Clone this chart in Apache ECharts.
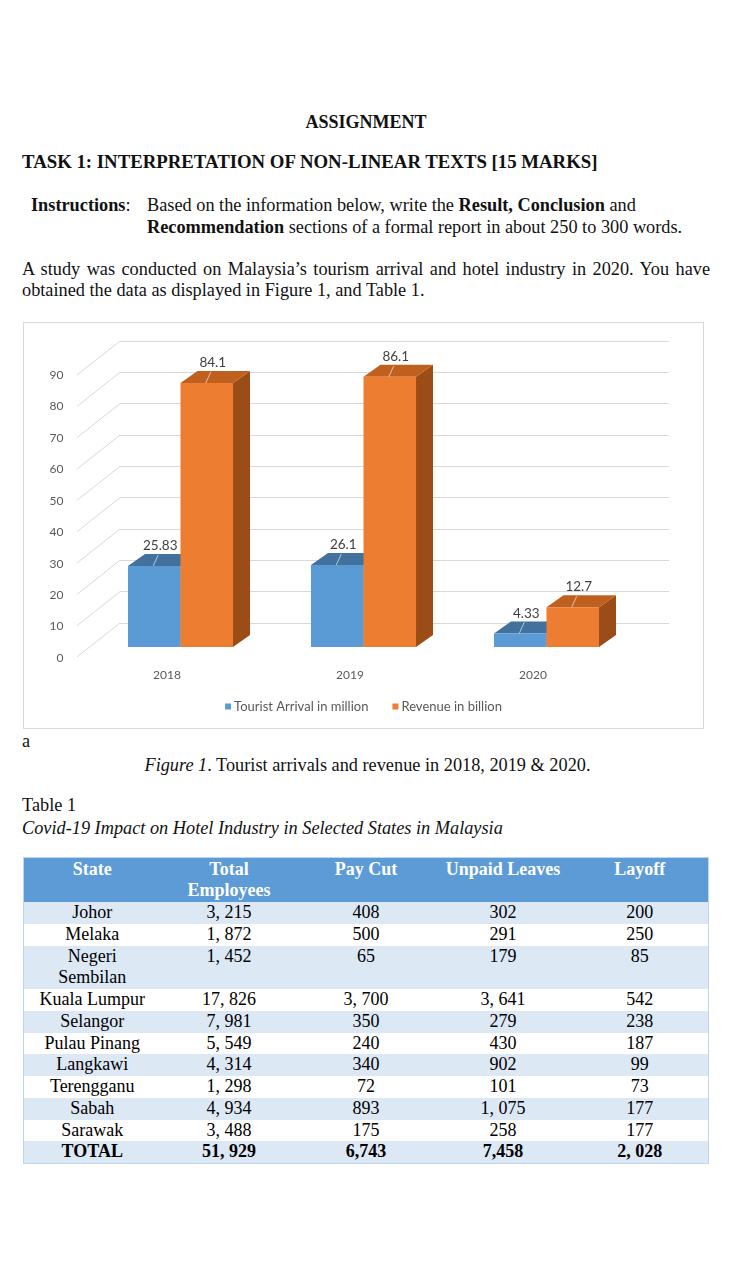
<!DOCTYPE html>
<html><head><meta charset="utf-8">
<script src="https://cdn.jsdelivr.net/npm/echarts@6/dist/echarts.min.js"></script>
<style>
html,body{margin:0;padding:0;background:#fff;}
body{width:740px;height:1280px;position:relative;overflow:hidden;font-family:'Liberation Serif','Times New Roman',serif;font-size:18.3px;color:#111;}
.t{position:absolute;white-space:nowrap;line-height:22px;}
#chart{position:absolute;left:23px;top:322px;width:679px;height:405px;border:1px solid #d9d9d9;}
#tbl{position:absolute;left:23px;top:857px;width:685px;border-collapse:collapse;table-layout:fixed;border:1px solid #bdd7ee;font-size:18px;}
#tbl th{background:#5d9bd6;color:#fff;font-weight:bold;vertical-align:top;line-height:21px;padding:1px 0 1px 0;text-align:center;}
#tbl td{line-height:21.75px;padding:0;text-align:center;vertical-align:top;color:#000;}
#tbl tr.alt td{background:#dde8f5;}
#tbl tr.tot td{font-weight:bold;}
</style></head><body>
<div class="t" style="left:0;width:732px;text-align:center;top:111px;font-weight:bold;font-size:18px">ASSIGNMENT</div>
<div class="t" style="left:22px;top:151px;font-weight:bold;font-size:18.8px">TASK 1: INTERPRETATION OF NON-LINEAR TEXTS [15 MARKS]</div>
<div class="t" style="left:31px;top:194px;font-weight:bold">Instructions<span style="font-weight:normal">:</span></div>
<div class="t" style="left:147px;top:194px">Based on the information below, write the <b>Result, Conclusion</b> and</div>
<div class="t" style="left:147px;top:216px"><b>Recommendation</b> sections of a formal report in about 250 to 300 words.</div>
<div class="t" style="left:22px;top:258px;width:688px;text-align:justify;text-align-last:justify;">A study was conducted on Malaysia’s tourism arrival and hotel industry in 2020. You have</div>
<div class="t" style="left:22px;top:279px">obtained the data as displayed in Figure 1, and Table 1.</div>
<div id="chart"></div>
<div class="t" style="left:22px;top:730px">a</div>
<div class="t" style="left:0;width:735px;text-align:center;top:754px"><i>Figure 1</i>. Tourist arrivals and revenue in 2018, 2019 &amp; 2020.</div>
<div class="t" style="left:22px;top:794px">Table 1</div>
<div class="t" style="left:22px;top:817px;font-style:italic">Covid-19 Impact on Hotel Industry in Selected States in Malaysia</div>
<table id="tbl"></table>
<script>
// ---- Figure 1 data ----
const years = ['2018', '2019', '2020'];
const touristArrivals = [25.83, 26.1, 4.33];
const revenue = [84.1, 86.1, 12.7];
const yTicks = [0, 10, 20, 30, 40, 50, 60, 70, 80, 90];
const seriesNames = ['Tourist Arrival in million', 'Revenue in billion'];

// ---- Table 1 data ----
const tableHeaders = ['State', 'Total\nEmployees', 'Pay Cut', 'Unpaid Leaves', 'Layoff'];
const states = ['Johor', 'Melaka', 'Negeri\nSembilan', 'Kuala Lumpur', 'Selangor', 'Pulau Pinang', 'Langkawi', 'Terengganu', 'Sabah', 'Sarawak'];
const totalEmployees = ['3, 215', '1, 872', '1, 452', '17, 826', '7, 981', '5, 549', '4, 314', '1, 298', '4, 934', '3, 488'];
const payCut = ['408', '500', '65', '3, 700', '350', '240', '340', '72', '893', '175'];
const unpaidLeaves = ['302', '291', '179', '3, 641', '279', '430', '902', '101', '1, 075', '258'];
const layoff = ['200', '250', '85', '542', '238', '187', '99', '73', '177', '177'];
const totalRow = ['TOTAL', '51, 929', '6,743', '7,458', '2, 028'];

// build table
(function(){
  const esc = s => s.replace(/&/g,'&amp;').replace(/</g,'&lt;').replace(/\n/g,'<br>');
  let h = '<colgroup>' + tableHeaders.map(()=>'<col style="width:137px">').join('') + '</colgroup>';
  h += '<tr>' + tableHeaders.map(c => '<th>' + esc(c) + '</th>').join('') + '</tr>';
  states.forEach((s, i) => {
    h += '<tr class="' + (i % 2 === 0 ? 'alt' : '') + '">' +
      [s, totalEmployees[i], payCut[i], unpaidLeaves[i], layoff[i]].map(c => '<td>' + esc(c) + '</td>').join('') + '</tr>';
  });
  h += '<tr class="alt tot">' + totalRow.map(c => '<td>' + esc(c) + '</td>').join('') + '</tr>';
  document.getElementById('tbl').innerHTML = h;
})();

// ---- chart ----
const chart = echarts.init(document.getElementById('chart'));
const FONT = 'Lato';
const DX = 17, DY = 12, BAR_FRAC = 0.287;
const colBlue = {front:'#5b9bd5', top:'#41719c', side:'#3a6a96'};
const colOrange = {front:'#ed7d31', top:'#c0601f', side:'#9c4c17'};

function barRenderer(sideSign, colors){
  return function(params, api){
    const i = api.value(0), v = api.value(1);
    const top = api.coord([i, v]), base = api.coord([i, 0]);
    const w = api.size([1, 0])[0] * BAR_FRAC;
    const x0 = sideSign < 0 ? top[0] - w : top[0];
    const x1 = x0 + w, y = top[1], b = base[1];
    const cx = (x0 + x1) / 2;
    return {type:'group', children:[
      {type:'polygon', shape:{points:[[x1,y],[x1+DX,y-DY],[x1+DX,b-DY],[x1,b]]}, style:{fill:colors.side}},
      {type:'polygon', shape:{points:[[x0,y],[x1,y],[x1+DX,y-DY],[x0+DX,y-DY]]}, style:{fill:colors.top}},
      {type:'rect', shape:{x:x0, y:y, width:w, height:b-y}, style:{fill:colors.front}},
      {type:'line', shape:{x1:cx-1, y1:y, x2:cx+4, y2:y-DY+1}, style:{stroke:'rgba(235,235,235,0.7)', lineWidth:1}},
      {type:'text', x:cx+6, y:y-DY-8, style:{text:String(v), fill:'#404040', font:'13.5px ' + FONT, align:'center', verticalAlign:'middle'}}
    ]};
  };
}

const option = {
  animation:false,
  textStyle:{fontFamily:FONT},
  grid:[
    {left:51.5, top:52, width:549, height:283},   // front plane (labels)
    {left:96, top:18, width:549, height:282},     // back wall
    {left:65, top:41.5, width:549, height:282.5}  // bar plane
  ],
  xAxis:[
    {gridIndex:0, type:'category', data:years, axisLine:{show:false}, axisTick:{show:false},
     axisLabel:{color:'#595959', fontSize:12, margin:11, fontFamily:FONT}},
    {gridIndex:1, type:'category', data:years, show:false},
    {gridIndex:2, type:'category', data:years, show:false}
  ],
  yAxis:[
    {gridIndex:0, type:'value', min:0, max:90, interval:10, axisLine:{show:false}, axisTick:{show:false},
     splitLine:{show:false}, axisLabel:{color:'#595959', fontSize:12, margin:12, fontFamily:FONT}},
    {gridIndex:1, type:'value', min:0, max:90, interval:10, axisLine:{show:false}, axisTick:{show:false},
     axisLabel:{show:false}, splitLine:{show:true, lineStyle:{color:'#d9d9d9', width:1}}},
    {gridIndex:2, type:'value', min:0, max:90, interval:10, show:false}
  ],
  legend:{data:seriesNames, left:'center', top:372, icon:'rect', itemWidth:6, itemHeight:6, itemGap:24,
    textStyle:{color:'#595959', fontSize:13, fontFamily:FONT, padding:[0,0,0,-2]}},
  series:[
    {type:'custom', name:'wall', xAxisIndex:1, yAxisIndex:1, silent:true, clip:false, z:1,
     data:yTicks.map(t => [0, t]),
     renderItem:function(params, api){
       const p = api.coord([0, api.value(1)]);
       const bw = api.size([1, 0])[0];
       const left = p[0] - bw / 2;
       return {type:'line', shape:{x1:left-43, y1:p[1]+34, x2:left, y2:p[1]}, style:{stroke:'#d9d9d9', lineWidth:1}};
     }},
    {type:'custom', name:seriesNames[0], xAxisIndex:2, yAxisIndex:2, clip:false, z:3,
     itemStyle:{color:colBlue.front},
     data:years.map((y, i) => [i, touristArrivals[i]]), renderItem:barRenderer(-1, colBlue)},
    {type:'custom', name:seriesNames[1], xAxisIndex:2, yAxisIndex:2, clip:false, z:4,
     itemStyle:{color:colOrange.front},
     data:years.map((y, i) => [i, revenue[i]]), renderItem:barRenderer(1, colOrange)}
  ]
};
chart.setOption(option);
</script>
</body></html>
